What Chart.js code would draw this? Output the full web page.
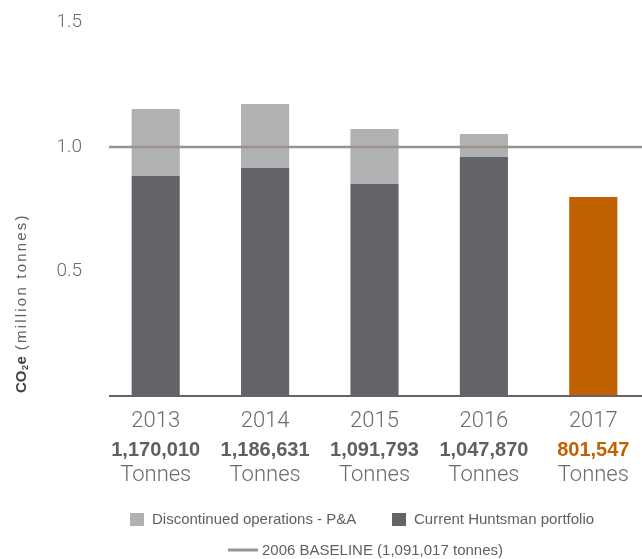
<!DOCTYPE html>
<html>
<head>
<meta charset="utf-8">
<style>
  html, body { margin: 0; padding: 0; background: #fff; overflow: hidden; }
  #wrap { width: 650px; height: 559px; }
</style>
<script src="https://cdn.jsdelivr.net/npm/chart.js@4/dist/chart.umd.min.js"></script>
</head>
<body>
<div id="wrap"><canvas id="chart" width="650" height="559"></canvas></div>
<script>
  "use strict";

  // values (million tonnes)
  var years = ["2013", "2014", "2015", "2016", "2017"];
  var totalsText = ["1,170,010", "1,186,631", "1,091,793", "1,047,870", "801,547"];
  var currentPortfolio = [0.884, 0.916, 0.851, 0.960, 0.799];
  var discontinued = [0.269, 0.257, 0.221, 0.092, 0];
  var yTicks = [0.5, 1.0, 1.5];
  var baselineValue = 1.0;
  var baselineLabel = "2006 BASELINE (1,091,017 tonnes)";

  var COLORS = { current: "#636467", discontinued: "#b0b1b3", highlight: "#c06000", baseline: "#9a928b", text: "#5f6062" };
  var FONT = "'Liberation Sans', Arial, sans-serif";

  var overlay = {
    id: "overlay",
    afterDatasetsDraw: function (chart) {
      var ctx = chart.ctx, x = chart.scales.x, y = chart.scales.y, area = chart.chartArea;
      var lineStart = 109;
      ctx.save();

      // x axis line
      ctx.strokeStyle = COLORS.current;
      ctx.lineWidth = 2;
      ctx.beginPath();
      ctx.moveTo(lineStart, y.getPixelForValue(0));
      ctx.lineTo(area.right, y.getPixelForValue(0));
      ctx.stroke();

      // baseline
      ctx.strokeStyle = COLORS.baseline;
      ctx.lineWidth = 2.5;
      ctx.beginPath();
      ctx.moveTo(lineStart, y.getPixelForValue(baselineValue));
      ctx.lineTo(area.right, y.getPixelForValue(baselineValue));
      ctx.stroke();

      // category labels
      ctx.textAlign = "center";
      ctx.textBaseline = "middle";
      years.forEach(function (yr, i) {
        var cx = x.getPixelForValue(i);
        var last = i === years.length - 1;
        ctx.fillStyle = "#6a6b6d";
        ctx.font = "300 22px Roboto, " + FONT;
        ctx.fillText(yr, cx, 421);
        ctx.fillStyle = last ? COLORS.highlight : COLORS.text;
        ctx.font = "bold 20px " + FONT;
        ctx.fillText(totalsText[i], cx, 450);
        ctx.fillStyle = "#6a6b6d";
        ctx.font = "300 22px Roboto, " + FONT;
        ctx.fillText("Tonnes", cx, 475);
      });

      // legend
      ctx.textAlign = "left";
      ctx.font = "15px " + FONT;
      var items = [
        { label: chart.data.datasets[1].label, color: COLORS.discontinued, x: 130 },
        { label: chart.data.datasets[0].label, color: COLORS.current, x: 392 }
      ];
      items.forEach(function (it) {
        ctx.fillStyle = it.color;
        ctx.fillRect(it.x, 513, 14, 13);
        ctx.fillStyle = COLORS.text;
        ctx.fillText(it.label, it.x + 22, 520);
      });
      ctx.strokeStyle = COLORS.baseline;
      ctx.lineWidth = 3;
      ctx.beginPath();
      ctx.moveTo(228, 550);
      ctx.lineTo(258, 550);
      ctx.stroke();
      ctx.fillStyle = COLORS.text;
      ctx.fillText(baselineLabel, 262, 551);

      // y axis title
      ctx.translate(22, 393);
      ctx.rotate(-Math.PI / 2);
      ctx.textBaseline = "middle";
      ctx.fillStyle = "#444";
      ctx.font = "bold 15px " + FONT;
      ctx.fillText("CO", 0, 0);
      var w = ctx.measureText("CO").width;
      ctx.font = "bold 9px " + FONT;
      ctx.fillText("2", w + 0.5, 4);
      w += ctx.measureText("2").width + 1;
      ctx.font = "bold 15px " + FONT;
      ctx.fillText("e", w, 0);
      w += ctx.measureText("e").width + 6;
      ctx.fillStyle = COLORS.text;
      ctx.font = "15px " + FONT;
      ctx.letterSpacing = "2.2px";
      ctx.fillText("(million tonnes)", w, 0);
      ctx.restore();
    }
  };

  new Chart(document.getElementById("chart"), {
    type: "bar",
    data: {
      labels: years,
      datasets: [
        {
          label: "Current Huntsman portfolio",
          data: currentPortfolio,
          backgroundColor: years.map(function (_, i) { return i === years.length - 1 ? COLORS.highlight : COLORS.current; })
        },
        { label: "Discontinued operations - P&A", data: discontinued, backgroundColor: COLORS.discontinued }
      ]
    },
    options: {
      responsive: false,
      animation: false,
      layout: { padding: { top: 22.5, right: 2, left: 0, bottom: 0 } },
      datasets: { bar: { categoryPercentage: 1, barPercentage: 0.44, borderWidth: 0 } },
      plugins: { legend: { display: false }, tooltip: { enabled: false } },
      scales: {
        x: {
          stacked: true,
          grid: { display: false },
          border: { display: false },
          ticks: { display: false },
          afterFit: function (s) { s.height = 163; }
        },
        y: {
          stacked: true,
          min: 0,
          max: 1.5,
          // grid hidden, but tickLength still spaces the labels off the plot
          grid: { display: false, drawTicks: true, tickLength: 19 },
          border: { display: false },
          afterBuildTicks: function (s) { s.ticks = yTicks.map(function (v) { return { value: v }; }); },
          afterFit: function (s) { s.width = 101; },
          ticks: {
            padding: 0,
            color: "#6a6b6d",
            font: { family: "Roboto, " + FONT, size: 19, weight: "300" },
            callback: function (v) { return Number(v).toFixed(1); }
          }
        }
      }
    },
    plugins: [overlay]
  });
</script>
</body>
</html>
